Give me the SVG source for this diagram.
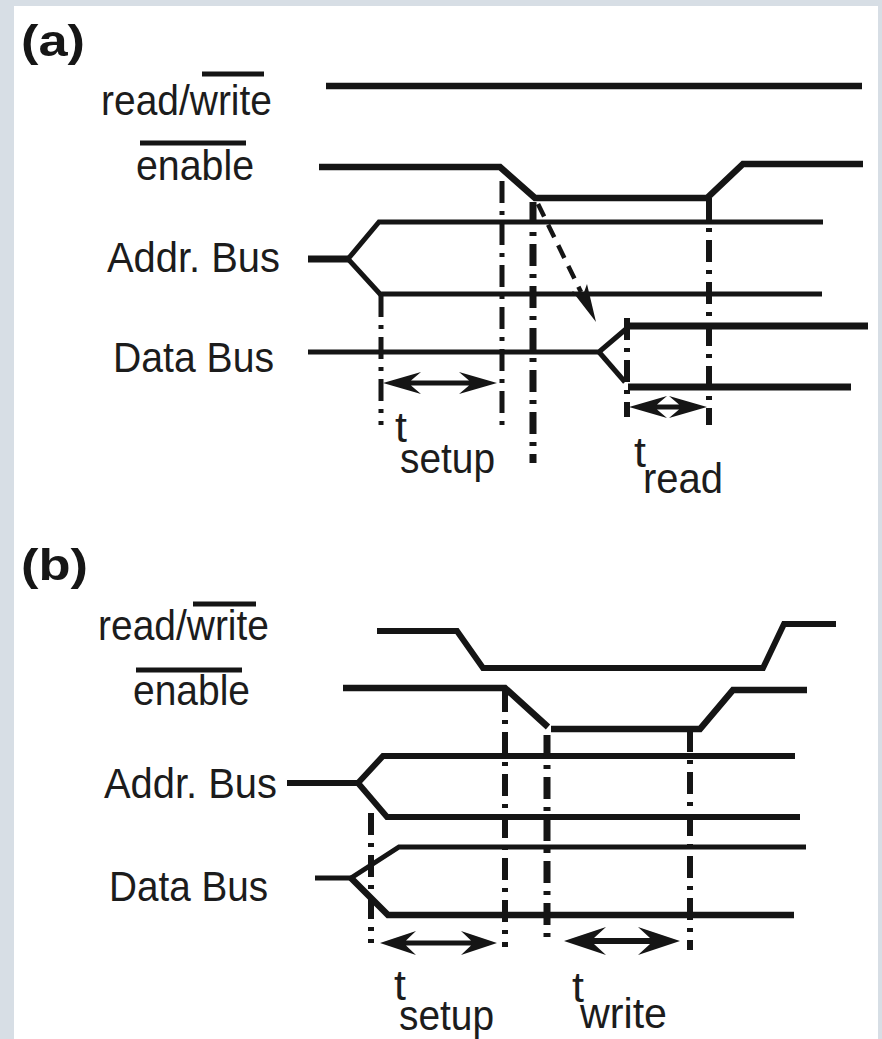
<svg xmlns="http://www.w3.org/2000/svg" width="882" height="1039" viewBox="0 0 882 1039">
  <style>
    .lbl { font-family: "Liberation Sans", Arial, sans-serif; font-size: 43px; fill: #1c1c1c; }
    .tag { font-family: "Liberation Sans", Arial, sans-serif; font-size: 44px; font-weight: bold; fill: #161616; }
    .sig { fill: none; stroke: #151515; stroke-linejoin: miter; stroke-linecap: butt; }
    .bar { stroke: #151515; stroke-width: 5; }
    .guide { fill: none; stroke: #151515; stroke-dasharray: 22 8 4 8; }
    .span { fill: #151515; }
  </style>

  <!-- page frame -->
  <rect x="0" y="0" width="882" height="1039" fill="#d7dee5"/>
  <rect x="14" y="6" width="864" height="1033" fill="#ffffff"/>

  <!-- ===== (a) read cycle ===== -->
  <g id="panel-a">
    <text class="tag" x="21" y="56" textLength="64" lengthAdjust="spacingAndGlyphs">(a)</text>

    <g id="a-readwrite">
      <text class="lbl" x="101" y="115" textLength="171" lengthAdjust="spacingAndGlyphs">read/write</text>
      <line class="bar" x1="202" y1="74" x2="264" y2="74"/>
      <path class="sig" stroke-width="6.5" d="M326,86 H862"/>
    </g>

    <g id="a-enable">
      <text class="lbl" x="136" y="180" textLength="118" lengthAdjust="spacingAndGlyphs">enable</text>
      <line class="bar" x1="140" y1="143" x2="246" y2="143"/>
      <path class="sig" stroke-width="6.5" d="M319,167 H500 L535,198 H707 L743,164 H863"/>
    </g>

    <g id="a-addr">
      <text class="lbl" x="107" y="272" textLength="173" lengthAdjust="spacingAndGlyphs">Addr. Bus</text>
      <path class="sig" stroke-width="7" d="M308,259 H349"/>
      <path class="sig" stroke-width="5" d="M823,222 H379 L348,259 L380,294 H822"/>
    </g>

    <g id="a-data">
      <text class="lbl" x="113" y="372" textLength="161" lengthAdjust="spacingAndGlyphs">Data Bus</text>
      <path class="sig" stroke-width="5" d="M308,352 H599 L626,329"/>
      <path class="sig" stroke-width="5" d="M599,352 L625,382"/>
      <path class="sig" stroke-width="7" d="M627,326 H868"/>
      <path class="sig" stroke-width="7" d="M628,387 H851"/>
    </g>

    <g id="a-timing">
      <path class="span" d="M383,383 L421,372 L411,380.5 L469,380.5 L459,372 L497,383 L459,394 L469,385.5 L411,385.5 L421,394 Z"/>
      <text class="lbl"><tspan x="395" y="442">t</tspan><tspan x="400" y="473" textLength="95" lengthAdjust="spacingAndGlyphs">setup</tspan></text>

      <path class="span" d="M629,407 L667,396 L657,404.5 L679,404.5 L669,396 L707,407 L669,418 L679,409.5 L657,409.5 L667,418 Z"/>
      <text class="lbl"><tspan x="634" y="467">t</tspan><tspan x="643" y="493" textLength="80" lengthAdjust="spacingAndGlyphs">read</tspan></text>
    </g>
  </g>

  <!-- ===== (b) write cycle ===== -->
  <g id="panel-b">
    <text class="tag" x="21" y="580" textLength="67" lengthAdjust="spacingAndGlyphs">(b)</text>

    <g id="b-readwrite">
      <text class="lbl" x="98" y="640" textLength="171" lengthAdjust="spacingAndGlyphs">read/write</text>
      <line class="bar" x1="193" y1="604" x2="256" y2="604"/>
      <path class="sig" stroke-width="6" d="M377,631 H457 L483,668 H763 L784,624 H836"/>
    </g>

    <g id="b-enable">
      <text class="lbl" x="133" y="705" textLength="117" lengthAdjust="spacingAndGlyphs">enable</text>
      <line class="bar" x1="136" y1="670" x2="242" y2="670"/>
      <path class="sig" stroke-width="6.5" d="M343,688 H505 L548,727"/>
      <path class="sig" stroke-width="6.5" d="M551,729 H700 L733,690 H807"/>
    </g>

    <g id="b-addr">
      <text class="lbl" x="104" y="798" textLength="173" lengthAdjust="spacingAndGlyphs">Addr. Bus</text>
      <path class="sig" stroke-width="6" d="M287,783 H359"/>
      <path class="sig" stroke-width="6" d="M795,756 H383 L358,783 L387,817 H800"/>
    </g>

    <g id="b-data">
      <text class="lbl" x="109" y="901" textLength="159" lengthAdjust="spacingAndGlyphs">Data Bus</text>
      <path class="sig" stroke-width="5" d="M315,878 H352"/>
      <path class="sig" stroke-width="5" d="M806,847 H399 L351,878"/>
      <path class="sig" stroke-width="6.5" d="M351,878 L388,915 H794"/>
    </g>

    <g id="b-timing">
      <path class="span" d="M380,943 L416,931 L406,940.5 L471,940.5 L461,931 L497,943 L461,955 L471,945.5 L406,945.5 L416,955 Z"/>
      <text class="lbl"><tspan x="394" y="1000">t</tspan><tspan x="399" y="1030" textLength="95" lengthAdjust="spacingAndGlyphs">setup</tspan></text>

      <path class="span" d="M564,941 L606,927 L594,938 L650,938 L638,927 L680,941 L638,955 L650,944 L594,944 L606,955 Z"/>
      <text class="lbl"><tspan x="572" y="1002">t</tspan><tspan x="580" y="1028" textLength="87" lengthAdjust="spacingAndGlyphs">write</tspan></text>
    </g>
  </g>

  <!-- reference lines and causal arrow -->
  <g id="connectors">
    <line class="guide" stroke-width="5" x1="381" y1="295" x2="381" y2="425"/>
    <line class="guide" stroke-width="5" x1="502" y1="181" x2="502" y2="427"/>
    <line class="guide" stroke-width="7" x1="533" y1="202" x2="533" y2="463"/>
    <line class="guide" stroke-width="6" x1="627" y1="318" x2="627" y2="417"/>
    <line class="guide" stroke-width="6" x1="709" y1="198" x2="709" y2="425"/>

    <line x1="538" y1="204" x2="581" y2="292" stroke="#151515" stroke-width="4.5" stroke-dasharray="14 9"/>
    <path class="span" d="M596,322 L572,291 L583,295 L587,284 Z"/>

    <line class="guide" stroke-width="6" x1="371" y1="813" x2="371" y2="943"/>
    <line class="guide" stroke-width="6" x1="505" y1="690" x2="505" y2="947"/>
    <line class="guide" stroke-width="7" x1="547" y1="735" x2="547" y2="937"/>
    <line class="guide" stroke-width="6" x1="690" y1="730" x2="690" y2="950"/>
  </g>
</svg>
